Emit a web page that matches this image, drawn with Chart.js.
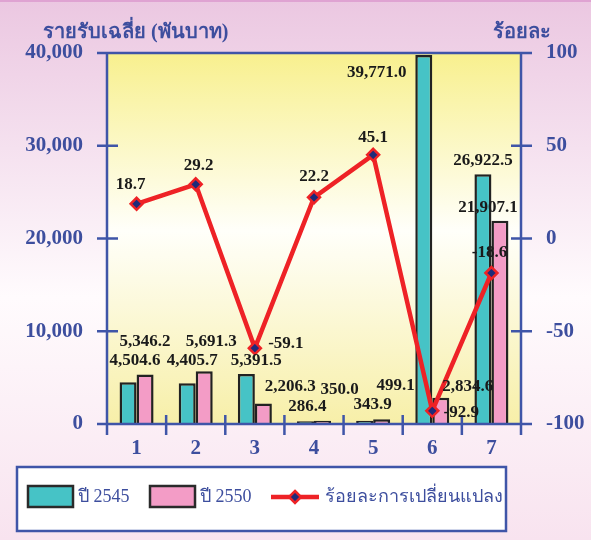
<!DOCTYPE html>
<html>
<head>
<meta charset="utf-8">
<script src="https://cdn.jsdelivr.net/npm/chart.js@4"></script>
<style>
  html, body { margin: 0; padding: 0; background: #fff; }
  #wrap { position: relative; width: 591px; height: 540px; }
</style>
</head>
<body>
<div id="wrap"><canvas id="incomeChart" width="591" height="540"></canvas></div>
<script>
// Data
const categories = ['1', '2', '3', '4', '5', '6', '7'];
const income2545 = [4504.6, 4405.7, 5391.5, 286.4, 343.9, 39771.0, 26922.5];
const income2550 = [5346.2, 5691.3, 2206.3, 350.0, 499.1, 2834.6, 21907.1];
const pctChange = [18.7, 29.2, -59.1, 22.2, 45.1, -92.9, -18.6];
const leftTicks = [0, 10000, 20000, 30000, 40000];
const rightTicks = [-100, -50, 0, 50, 100];
const seriesNames = ['ปี 2545', 'ปี 2550', 'ร้อยละการเปลี่ยนแปลง'];

// label placement (offset from bar top / point, px)
const offs2545 = [[7, -22], [5, -23], [10, -13], [2, -15], [8, -16], [-47, 17], [0, -14]];
const offs2550 = [[0, -33], [7, -30], [27, -17], [17, -31], [14, -34], [27, -11], [-12, -13]];
const offsPct = [[-6, -19], [3, -19], [31, -5], [0, -21], [0, -17], [29, 2], [-2, -20]];

const colors = {
  teal: '#46C3C6',
  pink: '#F39CC6',
  red: '#EE2226',
  navy: '#1F2A7A',
  axis: '#3F55A8',
  text: '#3D4E9E',
};
const serif = '"Liberation Serif", "Times New Roman", "DejaVu Serif", serif';

function fmt(v) {
  return v.toLocaleString('en-US', { minimumFractionDigits: 1, maximumFractionDigits: 1 });
}

const decorPlugin = {
  id: 'decor',
  beforeDraw(chart) {
    const { ctx, chartArea: a, width, height } = chart;
    ctx.save();
    let g = ctx.createLinearGradient(0, 0, 0, height);
    g.addColorStop(0, '#EBC7E1');
    g.addColorStop(0.55, '#FFFBFD');
    g.addColorStop(1, '#F8E3EF');
    ctx.fillStyle = g;
    ctx.fillRect(0, 0, width, height);
    ctx.fillStyle = '#DFA3D2';
    ctx.fillRect(0, 0, width, 2);

    g = ctx.createLinearGradient(0, a.top, 0, a.bottom);
    g.addColorStop(0, '#F8F08E');
    g.addColorStop(0.48, '#FFFFFA');
    g.addColorStop(1, '#F7EFA8');
    ctx.fillStyle = g;
    ctx.fillRect(a.left, a.top, a.right - a.left, a.bottom - a.top);

    // axis titles
    ctx.fillStyle = colors.text;
    ctx.font = 'bold 20px ' + serif;
    ctx.textBaseline = 'alphabetic';
    ctx.textAlign = 'left';
    ctx.fillText('รายรับเฉลี่ย (พันบาท)', 43, 38);
    ctx.fillText('ร้อยละ', 493, 38);
    ctx.restore();
  },
  afterDatasetsDraw(chart) {
    const { ctx, chartArea: a, scales } = chart;
    ctx.save();
    // frame and crossing ticks
    ctx.strokeStyle = colors.axis;
    ctx.lineWidth = 2.5;
    ctx.beginPath();
    ctx.moveTo(a.left, a.top); ctx.lineTo(a.right, a.top);
    ctx.moveTo(a.left, a.top); ctx.lineTo(a.left, a.bottom + 11);
    ctx.moveTo(a.right, a.top); ctx.lineTo(a.right, a.bottom + 11);
    ctx.moveTo(a.left, a.bottom); ctx.lineTo(a.right + 11, a.bottom);
    leftTicks.forEach(v => {
      const y = scales.y.getPixelForValue(v);
      ctx.moveTo(a.left - 10, y); ctx.lineTo(a.left + 11, y);
    });
    rightTicks.forEach(v => {
      const y = scales.y1.getPixelForValue(v);
      ctx.moveTo(a.right - 10, y); ctx.lineTo(a.right + 11, y);
    });
    for (let i = 1; i < categories.length; i++) {
      const x = (scales.x.getPixelForValue(i - 1) + scales.x.getPixelForValue(i)) / 2;
      ctx.moveTo(x, a.bottom - 9); ctx.lineTo(x, a.bottom + 11);
    }
    ctx.stroke();

    // value labels
    ctx.fillStyle = '#1a1a1a';
    ctx.font = 'bold 17px ' + serif;
    ctx.textAlign = 'center';
    ctx.textBaseline = 'middle';
    const sets = [[0, income2545, offs2545, fmt], [1, income2550, offs2550, fmt], [2, pctChange, offsPct, v => v.toFixed(1)]];
    sets.forEach(([di, vals, offs, f]) => {
      const meta = chart.getDatasetMeta(di);
      meta.data.forEach((el, i) => {
        ctx.fillText(f(vals[i]), el.x + offs[i][0], el.y + offs[i][1]);
      });
    });

    // legend
    ctx.fillStyle = '#fff';
    ctx.fillRect(17, 467, 489, 64);
    ctx.strokeStyle = colors.axis;
    ctx.lineWidth = 2.5;
    ctx.strokeRect(17, 467, 489, 64);
    const ly = 497;
    ctx.lineWidth = 2.5;
    ctx.strokeStyle = '#2a2a2a';
    ctx.fillStyle = colors.teal;
    ctx.fillRect(28, 486, 45, 21); ctx.strokeRect(28, 486, 45, 21);
    ctx.fillStyle = colors.pink;
    ctx.fillRect(150, 486, 45, 21); ctx.strokeRect(150, 486, 45, 21);
    ctx.strokeStyle = colors.red;
    ctx.lineWidth = 4.5;
    ctx.beginPath(); ctx.moveTo(271, ly); ctx.lineTo(319, ly); ctx.stroke();
    ctx.beginPath();
    ctx.moveTo(295, ly - 6); ctx.lineTo(301, ly); ctx.lineTo(295, ly + 6); ctx.lineTo(289, ly); ctx.closePath();
    ctx.fillStyle = colors.navy; ctx.lineWidth = 2.5; ctx.fill(); ctx.stroke();
    ctx.fillStyle = colors.text;
    ctx.font = '18px ' + serif;
    ctx.textAlign = 'left';
    ctx.fillText(seriesNames[0], 78, ly);
    ctx.fillText(seriesNames[1], 200, ly);
    ctx.fillText(seriesNames[2], 325, ly);
    ctx.restore();
  }
};

new Chart(document.getElementById('incomeChart'), {
  type: 'bar',
  data: {
    labels: categories,
    datasets: [
      {
        label: seriesNames[0],
        data: income2545,
        backgroundColor: colors.teal,
        borderColor: '#222',
        borderWidth: 2.5,
        yAxisID: 'y',
        order: 1,
      },
      {
        label: seriesNames[1],
        data: income2550,
        backgroundColor: colors.pink,
        borderColor: '#222',
        borderWidth: 2.5,
        yAxisID: 'y',
        order: 1,
      },
      {
        type: 'line',
        label: seriesNames[2],
        data: pctChange,
        borderColor: colors.red,
        borderWidth: 4.5,
        pointStyle: 'rectRot',
        pointRadius: 6,
        pointBackgroundColor: colors.navy,
        pointBorderColor: colors.red,
        pointBorderWidth: 2.5,
        tension: 0,
        yAxisID: 'y1',
        order: 0,
      },
    ],
  },
  options: {
    responsive: false,
    animation: false,
    events: [],
    categoryPercentage: 0.575,
    barPercentage: 1,
    layout: { padding: { top: 53, left: 0, right: 0, bottom: 0 } },
    plugins: {
      legend: { display: false },
      tooltip: { enabled: false },
    },
    scales: {
      x: {
        grid: { display: false, drawTicks: false },
        border: { display: false },
        ticks: {
          color: colors.text,
          font: { family: serif, size: 21, weight: 'bold' },
          padding: 12,
        },
        afterFit(s) { s.height = 116; },
      },
      y: {
        position: 'left',
        min: 0,
        max: 40000,
        afterBuildTicks(s) { s.ticks = leftTicks.map(v => ({ value: v })); },
        grid: { display: false, drawTicks: false },
        border: { display: false },
        ticks: {
          color: colors.text,
          font: { family: serif, size: 21, weight: 'bold' },
          padding: 24,
          callback: v => v.toLocaleString('en-US'),
        },
        afterFit(s) { s.width = 107; },
      },
      y1: {
        position: 'right',
        min: -100,
        max: 100,
        afterBuildTicks(s) { s.ticks = rightTicks.map(v => ({ value: v })); },
        grid: { display: false, drawTicks: false },
        border: { display: false },
        ticks: {
          color: colors.text,
          font: { family: serif, size: 21, weight: 'bold' },
          padding: 25,
        },
        afterFit(s) { s.width = 70; },
      },
    },
  },
  plugins: [decorPlugin],
});
</script>
</body>
</html>
